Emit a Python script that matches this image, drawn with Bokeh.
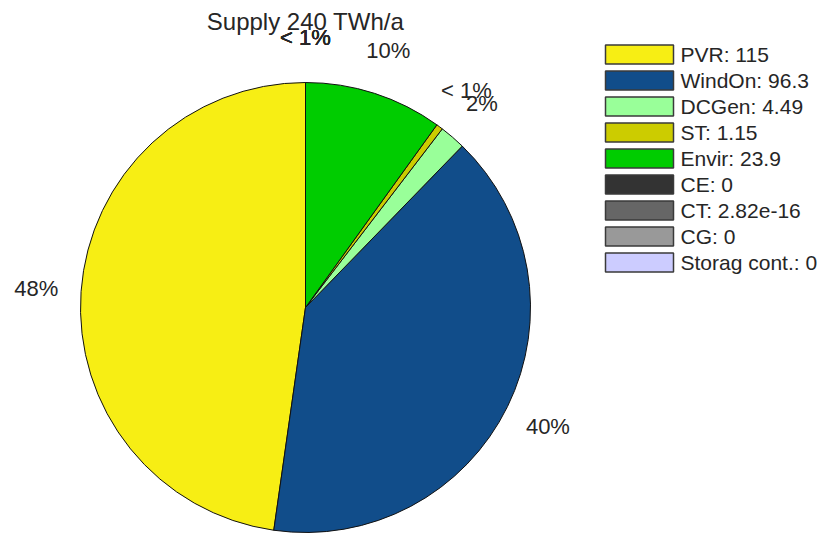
import numpy as np
from bokeh.plotting import figure
from bokeh.models import ColumnDataSource
from bokeh.core.properties import value
from bokeh.embed import file_html
from bokeh.resources import INLINE

# ---- data ----
title_text = "Supply 240 TWh/a"
names = ["PVR", "WindOn", "DCGen", "ST", "Envir", "CE", "CT", "CG", "Storag cont."]
values = [115, 96.3, 4.49, 1.15, 23.9, 0, 2.82e-16, 0, 0]
value_labels = ["115", "96.3", "4.49", "1.15", "23.9", "0", "2.82e-16", "0", "0"]
colors = ["#F7EE14", "#114D8A", "#99FF99", "#CCCC00", "#00CC00",
          "#333333", "#666666", "#999999", "#CCCCFF"]

# ---- geometry (1 data unit == 1 pixel) ----
W, H = 821, 533
CX, CY = 305, 307      # pie centre in pixels (from top-left)
R = 225
FONT = value("Liberation Sans")

total = float(sum(values))
frac = np.array(values, dtype=float) / total
ang = frac * 2 * np.pi
start = np.pi / 2 + np.concatenate([[0], np.cumsum(ang)[:-1]])
end = start + ang
mid = (start + end) / 2

pct = frac * 100
labels = ["< 1%" if p < 1 else "%d%%" % int(round(p)) for p in pct]

p = figure(width=W, height=H, x_range=(-CX, W - CX), y_range=(CY - H, CY),
           x_axis_type=None, y_axis_type=None, toolbar_location=None,
           output_backend="svg", min_border=0, outline_line_color=None,
           background_fill_color="white", border_fill_color="white")
p.grid.visible = False

# only slices with a visible area (zero-width wedges would render as full circles)
keep = frac > 1e-9
src = ColumnDataSource(dict(start=start[keep], end=end[keep],
                            color=[c for c, k in zip(colors, keep) if k]))
p.wedge(x=0, y=0, radius=R, start_angle="start", end_angle="end",
        fill_color="color", line_color="#111111", line_width=1, source=src)

lsrc = ColumnDataSource(dict(x=1.2 * R * np.cos(mid), y=1.2 * R * np.sin(mid), t=labels))
p.text(x="x", y="y", text="t", source=lsrc, text_align="center",
       text_baseline="middle", text_font=FONT, text_font_size="22px",
       text_color="#262626")

# title
p.text(x=[0], y=[CY - 21], text=[title_text], text_align="center",
       text_baseline="middle", text_font=FONT, text_font_size="24px",
       text_color="#262626")

# legend
n = len(names)
row_y = np.array([CY - (54 + 26 * i) for i in range(n)], dtype=float)
gsrc = ColumnDataSource(dict(x=[639 - CX] * n, y=row_y, color=colors,
                             t=["%s: %s" % (a, b) for a, b in zip(names, value_labels)],
                             tx=[680 - CX] * n))
p.rect(x="x", y="y", width=68, height=19, fill_color="color",
       line_color="#3a3a3a", line_width=1.5, source=gsrc)
p.text(x="tx", y="y", text="t", source=gsrc, text_align="left",
       text_baseline="middle", text_font=FONT, text_font_size="21px",
       text_color="#262626")

open("out.html", "w").write(file_html(p, INLINE))
